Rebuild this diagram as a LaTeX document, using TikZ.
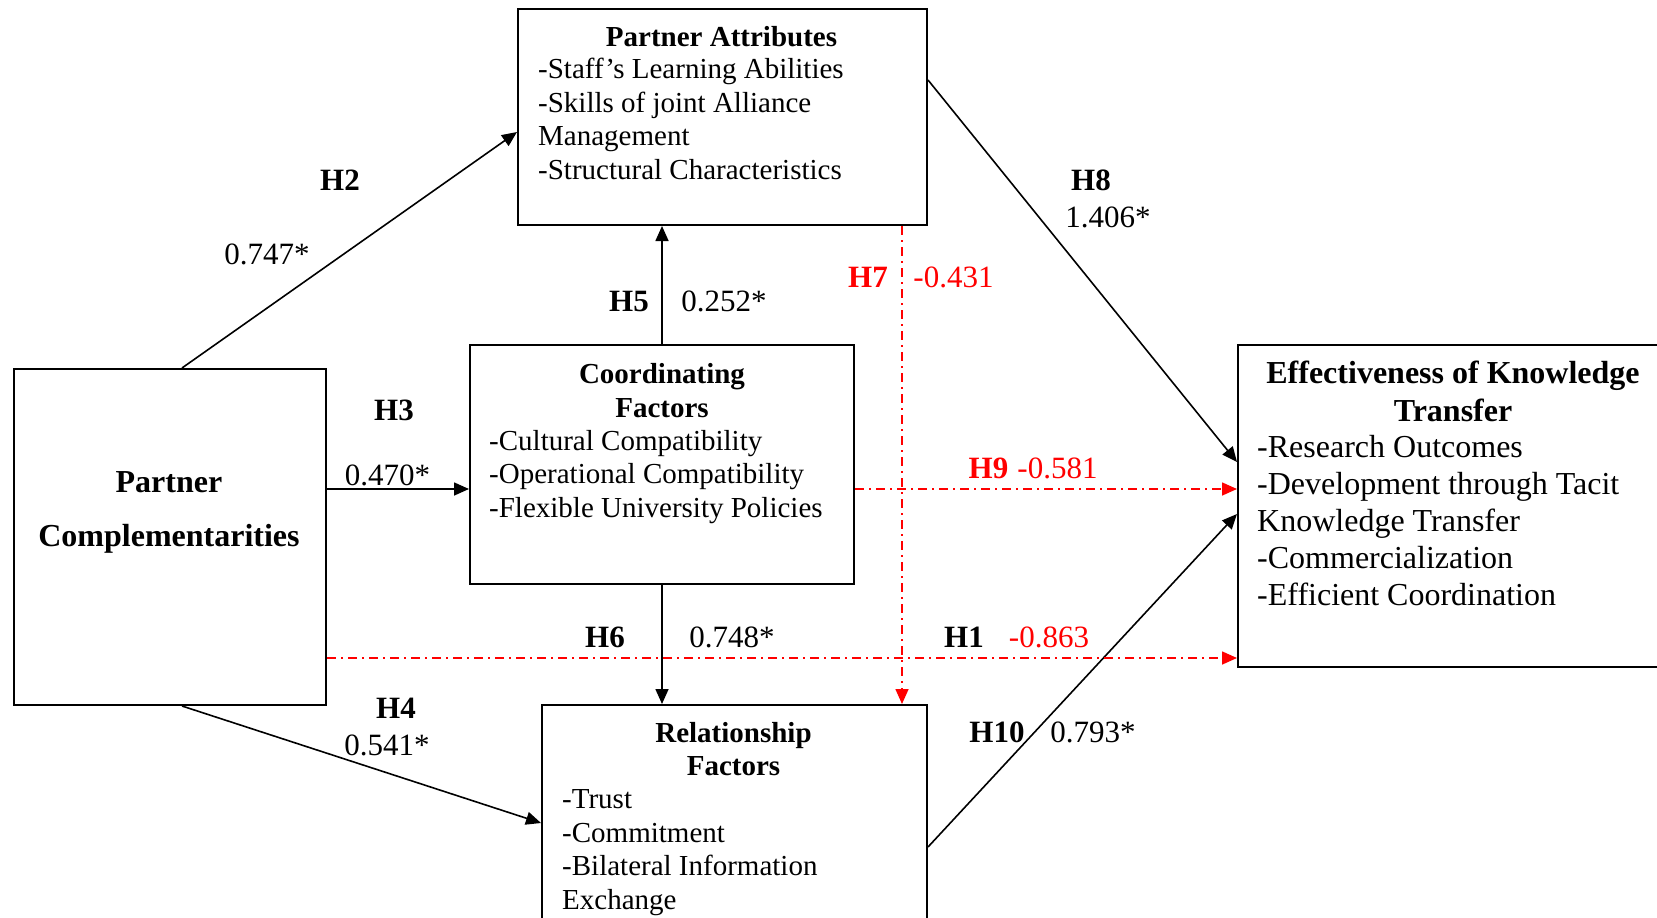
\documentclass[tikz,border=0pt]{standalone}
\usepackage{fontspec}
\setmainfont{Liberation Serif}
\usetikzlibrary{arrows.meta}
\definecolor{hred}{RGB}{255,0,0}
\begin{document}
\begin{tikzpicture}[x=1pt,y=-1pt,
  box/.style={draw,line width=2pt,rectangle,inner sep=0pt,anchor=north west},
  item/.style={anchor=base west,inner sep=0pt,font=\fontsize{29}{33.5}\selectfont},
  head/.style={anchor=base,inner sep=0pt,font=\fontsize{29}{33.5}\selectfont\bfseries},
  bigitem/.style={anchor=base west,inner sep=0pt,font=\fontsize{32}{37}\selectfont},
  bighead/.style={anchor=base,inner sep=0pt,font=\fontsize{32}{37}\selectfont\bfseries},
  num/.style={anchor=base,inner sep=0pt,font=\fontsize{31}{36}\selectfont},
  hyp/.style={anchor=base,inner sep=0pt,font=\fontsize{31}{36}\selectfont\bfseries},
  link/.style={line width=1.6pt,-{Triangle[length=15pt,width=13pt]}},
  nslink/.style={line width=1.6pt,hred,dash pattern=on 9pt off 5pt on 2pt off 5pt,
    -{Triangle[length=15pt,width=13pt]}}
]
\useasboundingbox (0,0) rectangle (1657,918);
\fill[white] (0,0) rectangle (1657,918);
\clip (0,0) rectangle (1657,918);

% construct boxes
\node[box,minimum width=409pt,minimum height=216pt] (pa) at (517,8) {};
\node[box,minimum width=384pt,minimum height=239pt] (cf) at (469,344) {};
\node[box,minimum width=312pt,minimum height=336pt] (pc) at (13,368) {};
\node[box,minimum width=385pt,minimum height=260pt] (rf) at (541,704) {};
\node[box,minimum width=450pt,minimum height=322pt] (ekt) at (1237,344) {};

% Partner Attributes
\node[head] (pa-h) at (721.5,46) {Partner Attributes};
\node[item] (pa-1) at (538,78.5) {-Staff’s Learning Abilities};
\node[item] (pa-2) at (538,112) {-Skills of joint Alliance};
\node[item] (pa-3) at (538,145.5) {Management};
\node[item] (pa-4) at (538,179) {-Structural Characteristics};

% Coordinating Factors
\node[head] (cf-h1) at (662,383) {Coordinating};
\node[head] (cf-h2) at (662,417) {Factors};
\node[item] (cf-1) at (489,450) {-Cultural Compatibility};
\node[item] (cf-2) at (489,483.5) {-Operational Compatibility};
\node[item] (cf-3) at (489,517) {-Flexible University Policies};

% Partner Complementarities
\node[bighead] (pc-h1) at (169,492) {Partner};
\node[bighead] (pc-h2) at (169,546) {Complementarities};

% Relationship Factors
\node[head] (rf-h1) at (733.5,742) {Relationship};
\node[head] (rf-h2) at (733.5,775) {Factors};
\node[item] (rf-1) at (562,808) {-Trust};
\node[item] (rf-2) at (562,842) {-Commitment};
\node[item] (rf-3) at (562,875) {-Bilateral Information};
\node[item] (rf-4) at (562,909) {Exchange};

% Effectiveness of Knowledge Transfer
\node[bighead] (ekt-h1) at (1453,383) {Effectiveness of Knowledge};
\node[bighead] (ekt-h2) at (1453,421) {Transfer};
\node[bigitem] (ekt-1) at (1257,457) {-Research Outcomes};
\node[bigitem] (ekt-2) at (1257,494) {-Development through Tacit};
\node[bigitem] (ekt-3) at (1257,531) {Knowledge Transfer};
\node[bigitem] (ekt-4) at (1257,568) {-Commercialization};
\node[bigitem] (ekt-5) at (1257,605) {-Efficient Coordination};

% connector end points
\coordinate (h3e) at ([yshift=-24.5pt]cf.west);
\coordinate (h7s) at ([xshift=-26pt]pa.south east);
\coordinate (h9s) at ([yshift=-24.5pt]cf.east);
\coordinate (h1s) at ([yshift=48pt]pc.south east);

% significant paths
\draw[link] ([xshift=169pt]pc.north west) -- ([yshift=-15pt]pa.west);
\draw[link] (cf.north) -- (cf.north |- pa.south);
\draw[link] (pc.east |- h3e) -- (h3e);
\draw[link] (cf.south) -- (cf.south |- rf.north);
\draw[link] ([xshift=169pt]pc.south west) -- ([yshift=-119pt]rf.north west);
\draw[link] ([yshift=-72pt]pa.north east) -- ([yshift=-118pt]ekt.north west);
\draw[link] ([yshift=-143pt]rf.north east) -- ([yshift=-170pt]ekt.north west);

% non-significant paths
\draw[nslink] (h7s) -- (h7s |- rf.north);
\draw[nslink] (h9s) -- (h9s -| ekt.west);
\draw[nslink] (h1s) -- (h1s -| ekt.west);

% path labels
\node[hyp] (l-h2) at (340,190) {H2};
\node[num] (l-v2) at (267,264) {0.747*};
\node[hyp] (l-h5) at (629,311) {H5};
\node[num] (l-v5) at (724,311) {0.252*};
\node[hyp,text=hred] (l-h7) at (868,287) {H7};
\node[num,text=hred] (l-v7) at (953.5,287) {-0.431};
\node[hyp] (l-h8) at (1091,190) {H8};
\node[num] (l-v8) at (1108,227) {1.406*};
\node[hyp] (l-h3) at (394,420) {H3};
\node[num] (l-v3) at (387.5,485) {0.470*};
\node[hyp,text=hred] (l-h9) at (988.5,478) {H9};
\node[num,text=hred] (l-v9) at (1057.5,478) {-0.581};
\node[hyp] (l-h6) at (605,647) {H6};
\node[num] (l-v6) at (732,647) {0.748*};
\node[hyp] (l-h1) at (964,647) {H1};
\node[num,text=hred] (l-v1) at (1049,647) {-0.863};
\node[hyp] (l-h4) at (396,718) {H4};
\node[num] (l-v4) at (387,755) {0.541*};
\node[hyp] (l-h10) at (997,742) {H10};
\node[num] (l-v10) at (1093,742) {0.793*};
\end{tikzpicture}
\end{document}
